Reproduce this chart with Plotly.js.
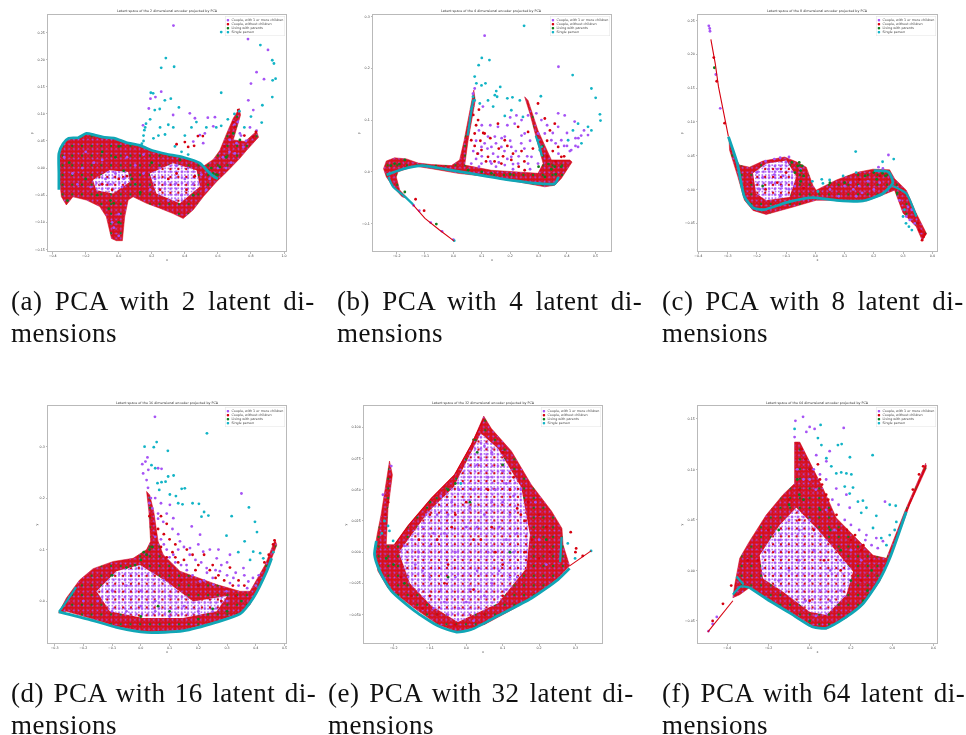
<!DOCTYPE html>
<html><head><meta charset="utf-8">
<script src="https://cdn.plot.ly/plotly-3.0.1.min.js"></script>
<style>html,body{margin:0;padding:0;background:#fff;overflow:hidden}#g{width:966px;height:735px}.cartesianlayer{filter:blur(.45px)}</style>
</head><body><div id="g"></div>
<script>
const SERIES_NAMES = ['Couple, with 1 or more children','Couple, without children','Living with parents','Single person'];
const SERIES_COLORS = ['#a653f5','#d6000f','#0f7d1e','#12b4c6'];

// ---------- Panel a ----------
const A_MASS = [[-.362,.027],[-.337,.045],[-.303,.055],[-.246,.056],[-.196,.064],[-.145,.061],[-.095,.057],[-.024,.055],[.046,.047],[.127,.042],[.208,.032],[.289,.026],[.39,.02],[.491,.009],[.515,.004],[.572,.016],[.612,.033],[.653,.064],[.693,.092],[.729,.11],[.737,.098],[.693,.052],[.764,.049],[.834,.068],[.846,.057],[.774,.033],[.733,.018],[.653,-.007],[.592,-.025],[.511,-.053],[.451,-.077],[.39,-.093],[.329,-.084],[.248,-.074],[.168,-.065],[.087,-.053],[.057,-.059],[.036,-.09],[.022,-.134],[-.014,-.134],[-.044,-.13],[-.075,-.09],[-.115,-.071],[-.196,-.059],[-.277,-.053],[-.317,-.068],[-.347,-.053],[-.362,-.01],[-.362,.027]];
const A_HOLES = [[[-.156,-.022],[-.055,-.004],[.057,-.007],[.067,-.025],[-.034,-.047],[-.135,-.041],[-.156,-.022]],[[.188,-.01],[.329,.009],[.471,-.004],[.491,-.034],[.37,-.065],[.228,-.047],[.188,-.01]]];
const A_BANDS = [[[-.362,-.04],[-.362,-.01],[-.362,.027],[-.337,.045],[-.303,.055],[-.246,.056],[-.196,.064],[-.145,.061],[-.095,.057],[-.024,.055],[.046,.047],[.127,.042],[.208,.032],[.289,.026],[.39,.02],[.491,.009],[.515,.002],[.56,-.012],[.60,-.02]]];
const A_TAILS = [];
const A_PURPLE = [[.331,.263],[.782,.238],[.903,.218],[.834,.177],[.879,.164],[.8,.156],[.257,.141],[.192,.128],[.222,.131],[.182,.11],[.147,.079],[.539,.093],[.582,.094],[.814,.107],[.491,.061],[.329,.098],[.43,.101],[.461,.092],[.572,.077],[.521,.064],[.451,.049],[.511,.046],[.784,.125],[.834,.069],[.794,.075],[.733,.064],[.713,.046],[.703,.027],[.754,.039],[.673,.052],[-.05,-.03],[-.02,-.01],[.03,-.02],[-.08,-.02],[-.11,-.03],[.02,-.035],[-.03,-.11],[0,-.125],[-.04,-.1],[.22,-.02],[.28,-.03],[.34,-.03],[.4,-.02],[.45,-.03],[.38,-.05],[.3,-.06],[.25,0],[.35,.005],[.42,0],[.1,.005],[.05,.02],[-.2,.03],[-.28,-.01],[-.33,.02],[-.25,-.03],[.15,.025],[.55,-.02],[.6,0],[.65,0],[.68,.01],[0,-.085],[-.15,.01],[-.1,.015],[-.22,0],[-.17,-.035],[.1,-.03],[.15,-.01],[.19,-.04],[.5,-.012],[.53,-.04],[.74,.06],[.72,.085],[.7,.08],[.77,.05],[.67,.03],[.63,.02]];
const A_RED = [[.479,.059],[.509,.059],[.4,.048],[.42,.039],[.456,.041],[.35,.044],[.723,.107],[.693,.085],[.83,.067],[.814,.058],[.703,.076],[.673,.058],[.64,.04],[.76,.06],[-.1,-.03],[0,-.02],[.25,-.04],[.35,-.01],[.3,-.02],[.41,-.04],[.46,-.015],[-.04,-.04],[.05,-.015]];
const A_GREEN = [[.693,.064],[.733,.052],[.612,.002],[.572,-.01],[.37,.015],[.1,-.03],[-.2,-.02],[-.05,-.06],[0,-.1],[-.3,.01],[.2,.01],[.45,-.05],[-.1,.03],[0,.04],[.65,.02],[-.06,-.075],[-.03,-.065],[-.13,-.05],[-.31,-.06],[.56,0],[.03,-.005],[-.02,.02],[.54,-.005],[.59,-.012],[.08,-.02],[.13,-.045]];
const A_TEAL = [[.62,.251],[.857,.227],[.285,.203],[.257,.185],[.335,.187],[.929,.199],[.939,.193],[.931,.162],[.949,.165],[.62,.139],[.929,.131],[.869,.116],[.865,.084],[.194,.139],[.208,.138],[.279,.125],[.315,.128],[.364,.112],[.248,.109],[.218,.107],[.165,.082],[.16,.075],[.15,.06],[.19,.09],[.25,.075],[.28,.062],[.3,.08],[.33,.075],[.4,.06],[.44,.075],[.47,.085],[.53,.075],[.59,.075],[.62,.078],[.66,.09],[.7,.1],[.73,.105],[.76,.075],[.8,.095],[.21,.055],[.24,.06],[.34,.04],[.38,.03],[.42,.025],[.15,.05],[.14,.045],[.155,.07]];

// ---------- Panel b ----------
const B_MASS = [[-.246,.006],[-.236,.021],[-.207,.027],[-.165,.025],[-.124,.017],[-.077,.014],[-.007,.012],[.022,.023],[.038,.061],[.054,.106],[.072,.158],[.077,.138],[.063,.093],[.052,.061],[.04,.013],[.134,.003],[.298,-.003],[.316,.016],[.269,.113],[.251,.145],[.263,.138],[.298,.08],[.345,.023],[.41,.023],[.418,.019],[.38,-.013],[.357,-.026],[.322,-.029],[.134,-.01],[.016,-.003],[-.077,.006],[-.136,.011],[-.195,0],[-.201,-.01],[-.189,-.035],[-.16,-.052],[-.181,-.048],[-.212,-.029],[-.236,-.01],[-.246,.006]];
const B_HOLES = [];
const B_BANDS = [[[-.235,-.006],[-.18,.005],[-.11,.012],[-.05,.007],[.06,-.003],[.2,-.016],[.31,-.023],[.357,-.023],[.37,-.01]],[[-.229,-.01],[-.212,-.029],[-.171,-.048],[-.142,-.063]],[[.29,.07],[.305,.045],[.312,.03]],[[.06,.105],[.05,.07],[.07,.14]]];
const B_TAILS = [[[-.148,-.06],[-.1,-.09],[-.05,-.112],[-.02,-.124],[.003,-.134]]];
const B_PURPLE = [[.11,.263],[.37,.203],[.075,.161],[.069,.151],[.104,.126],[.222,.109],[.263,.109],[.292,.113],[.369,.113],[.392,.109],[.427,.097],[.369,.087],[.474,.071],[.439,.048],[.415,.042],[.38,.061],[.345,.061],[.322,.074],[.298,.074],[.181,.068],[.146,.068],[.099,.048],[.134,.048],[.169,.048],[.204,.048],[.239,.055],[.063,.016],[.099,.016],[.134,.016],[.181,.013],[.228,.016],[.263,.016],[.275,.029],[.298,.016],[.204,.029],[.157,.029],[.087,.035],[.122,.068],[.251,.074],[.216,.093],[.157,.087],[-.14,-.065],[-.12,-.075],[-.08,-.098],[-.04,-.115],[0,-.131],[.4,.05],[.43,.065],[.45,.07],[.46,.08],[.07,.04],[.08,.06],[.09,.08],[.1,.03],[.11,.055],[.12,.045],[.13,.02],[.14,.035],[.15,.055],[.16,.018],[.17,.065],[.18,.04],[.19,.025],[.2,.06],[.21,.015],[.22,.04],[.23,.03],[.24,.07],[.25,.045],[.26,.03],[.27,.06],[.1,.09],[.13,.09],[.19,.09],[.24,.1],[.2,.105],[.31,.1],[.33,.09],[.35,.075],[.36,.055],[.37,.035],[.39,.05],[.41,.04],[.4,.075],[.43,.05],[.44,.065],[.08,.025],[.09,.01],[.15,.01],[.21,.005],[.27,.005]];
const B_RED = [[.157,.093],[.087,.1],[.11,.074],[.075,.074],[.063,.061],[.122,.029],[.169,.016],[.228,.087],[.263,.077],[.322,.103],[.298,.132],[.357,.093],[.38,.029],[.369,.048],[-.133,-.053],[-.103,-.075],[.099,.042],[.204,.023],[.251,.003],[.181,.061],[.075,.05],[.08,.09],[.085,.035],[.095,.06],[.105,.075],[.115,.02],[.13,.065],[.145,.02],[.16,.045],[.175,.03],[.19,.05],[.21,.035],[.23,.01],[.24,.04],[.25,.02],[.28,.045],[.33,.06],[.35,.04],[.33,.03],[.36,.02],[.39,.03],[.34,.08],[.07,.11],[.09,.12]];
const B_GREEN = [[-.06,-.101],[-.171,-.039],[.134,-.003],[.357,.01],[.322,-.01],[.052,.003],[-.207,.016],[-.171,.023],[.3,.01],[.38,.01],[.2,-.005],[.345,.005],[.335,.015],[.36,-.005],[.1,0],[-.22,.012],[-.19,.015]];
const B_TEAL = [[.249,.282],[.1,.22],[.127,.216],[.089,.206],[.075,.184],[.42,.187],[.486,.161],[.501,.143],[.516,.111],[.518,.099],[.308,.146],[.165,.164],[.151,.156],[.146,.148],[.113,.171],[.099,.167],[.081,.171],[.154,.145],[.208,.144],[.234,.138],[.19,.142],[.122,.138],[.093,.132],[.14,.126],[.204,.119],[.245,.106],[.181,.108],[.439,.093],[.421,.08],[.451,.055],[.404,.061],[.474,.087],[.486,.08],[.298,.061],[.31,.048],[.304,.042],[.063,.122],[.069,.145],[.075,.138],[.003,-.133]];

// ---------- Panel c ----------
const C_MASS = [[-.295,.075],[-.282,.053],[-.259,.036],[-.225,.033],[-.179,.042],[-.105,.048],[-.065,.041],[-.031,.033],[-.008,.006],[.003,-.001],[.072,.014],[.14,.025],[.197,.03],[.254,.029],[.271,.016],[.311,-.001],[.345,-.035],[.38,-.065],[.366,-.076],[.345,-.055],[.3,-.035],[.271,-.001],[.231,-.008],[.174,-.017],[.106,-.016],[.003,-.016],[-.076,-.026],[-.168,-.037],[-.213,-.031],[-.242,-.016],[-.265,.019],[-.293,.058],[-.295,.075]];
const C_HOLES = [[[-.213,.024],[-.168,.038],[-.099,.043],[-.065,.019],[-.088,-.011],[-.168,-.016],[-.202,-.006],[-.213,.024]]];
const C_BANDS = [[[-.297,.078],[-.267,.039],[-.242,-.011],[-.213,-.027],[-.179,-.03],[-.088,-.018],[-.008,-.012],[.072,-.016],[.163,-.017],[.231,-.006],[.265,.01],[.25,.026],[.2,.028]],[[.265,.005],[.311,-.006],[.345,-.04]]];
const C_TAILS = [[[-.357,.222],[-.35,.206],[-.342,.186],[-.331,.152],[-.322,.132],[-.314,.11],[-.304,.088],[-.297,.078]]];
const C_PURPLE = [[-.364,.242],[-.361,.238],[-.36,.234],[.25,.051],[.216,.033],[.231,.031],[.311,-.04],[.323,-.045],[.317,-.026],[.288,-.016],[-.16,.03],[-.13,.03],[-.1,.04],[-.11,.02],[-.15,.01],[-.19,0],[-.09,0],[-.12,-.01],[-.2,.025],[.13,0],[.16,-.005],[.14,-.01],[.1,.005],[.2,0],[.22,.01],[.05,0],[.08,-.01],[-.05,.03],[-.07,.005],[-.34,.17],[-.325,.12],[-.12,.047],[-.17,.042],[-.14,.022],[-.115,.005],[-.18,.018],[.34,-.05],[.33,-.03],[.12,.01],[.15,.005],[.18,.012],[-.14,.045],[-.09,.048]];
const C_RED = [[.37,-.07],[.365,-.075],[.375,-.066],[.36,-.062],[.35,-.05],[-.347,.195],[-.337,.16],[-.31,.098],[.355,-.06],[.1,.01],[.15,.015],[.22,.02],[-.22,.01],[-.04,.002],[-.13,.01],[-.17,0],[-.1,.025]];
const C_GREEN = [[-.06,.035],[-.05,.028],[-.07,.025],[-.04,.02],[.1,.01],[.17,.02],[.24,.02],[.21,.015],[-.18,.005],[.28,-.005],[.05,.01],[-.055,.04],[-.345,.18],[-.08,.04],[-.05,.012],[-.045,.035],[.2,.025],[.23,.024]];
const C_TEAL = [[.138,.056],[.268,.045],[.23,.041],[.022,.015],[.026,.009],[.049,.014],[.095,.02],[.14,.025],[.009,-.003],[.3,-.04],[.31,-.05],[.32,-.055],[.33,-.06],[.305,-.03],[-.01,.012]];

// ---------- Panel d ----------
const D_MASS = [[-.286,-.023],[-.259,.006],[-.213,.041],[-.166,.063],[-.096,.077],[-.027,.083],[.02,.1],[.034,.116],[.028,.174],[.02,.213],[.031,.206],[.045,.174],[.06,.116],[.078,.09],[.136,.058],[.264,.032],[.345,.019],[.38,.019],[.432,.07],[.467,.119],[.473,.109],[.438,.058],[.38,-.007],[.345,-.023],[.264,-.039],[.147,-.056],[.02,-.06],[-.085,-.049],[-.178,-.033],[-.259,-.02],[-.286,-.023]];
const D_HOLES = [[[-.154,.019],[-.085,.058],[-.003,.07],[.089,.038],[.182,-.001],[.3,.01],[.264,-.02],[.147,-.033],[.008,-.033],[-.108,-.02],[-.154,.019]]];
const D_BANDS = [[[-.285,-.021],[-.178,-.036],[-.085,-.051],[.02,-.061],[.147,-.058],[.264,-.041],[.345,-.025],[.391,.006],[.438,.058],[.455,.083]],[[-.285,-.021],[-.259,-.001],[-.225,.027]]];
const D_TAILS = [];
const D_PURPLE = [[.049,.358],[.35,.209],[.023,.279],[.016,.271],[.005,.266],[.026,.255],[.008,.248],[.06,.258],[.072,.257],[.101,.187],[.078,.154],[.113,.161],[.177,.145],[.206,.129],[.136,.116],[.217,.096],[.171,.103],[.264,.083],[.31,.09],[.357,.064],[.322,.045],[.275,.058],[.229,.064],[.159,.07],[.113,.09],[.374,.038],[.252,.032],[.298,.019],[.206,.038],[.025,.22],[.02,.235],[.03,.19],[.035,.2],[-.1,.02],[-.05,.03],[0,.02],[.05,0],[.1,.01],[.15,-.01],[.2,-.02],[-.15,0],[-.2,0],[-.05,-.02],[.05,-.02],[.1,-.03],[.25,-.02],[.3,0],[-.1,-.02],[0,-.01],[.08,.04],[.07,.12],[.09,.1],[.1,.085],[.13,.1],[.15,.105],[.17,.09],[.19,.08],[.21,.075],[.23,.055],[.25,.045],[.28,.07],[.3,.05],[.31,.035],[.33,.055],[.34,.03],[.36,.05],[.37,.025],[.39,.045],[.4,.03],[.41,.05],[.11,.14],[.13,.13],[.09,.17],[.06,.16],[.07,.19],[.16,.06],[.18,.05],[.22,.04],[.26,.06],[.12,.075],[.14,.07],[.08,.11],[.05,.125],[.06,.17],[.05,.2],[.04,.18],[.2,.11],[.24,.1],[.27,.1],[.3,.075]];
const D_RED = [[.04,.15],[.03,.165],[.05,.13],[.06,.14],[.08,.13],[.1,.12],[.12,.11],[.15,.08],[.18,.09],[.2,.07],[.25,.07],[.27,.05],[.32,.03],[.33,.01],[.1,.06],[.14,.04],[.2,.03],[.28,0],[.43,.075],[.445,.09],[.46,.11],[.465,.118],[.07,.105],[.09,.085],[.11,.095],[.13,.075],[.16,.1],[.19,.06],[.22,.09],[.24,.06],[.26,.045],[.29,.04],[.31,.065],[.34,.04],[.36,.03],[.07,.165],[.09,.15],[.12,.085]];
const D_GREEN = [[.02,.09],[0,.08],[-.02,.07],[.03,.1],[-.05,.065],[.06,-.01],[.1,-.02],[0,-.03],[.2,-.035],[.25,-.015],[-.1,.05],[.3,-.02],[.35,0],[.04,.105],[.01,.095]];
const D_TEAL = [[.23,.326],[.055,.309],[.013,.3],[.045,.299],[.094,.292],[.037,.264],[.05,.258],[.095,.242],[.114,.244],[.058,.229],[.086,.232],[.072,.231],[.153,.219],[.142,.218],[.064,.216],[.101,.207],[.122,.204],[.18,.19],[.202,.189],[.13,.19],[.145,.188],[.316,.165],[.376,.182],[.397,.154],[.404,.134],[.22,.173],[.235,.166],[.211,.164],[.298,.127],[.361,.116],[.339,.095],[.391,.096],[.415,.093],[.426,.083],[.38,.08],[.461,.095]];

// ---------- Panel e ----------
const E_MASS = [[-.252,.001],[-.245,.014],[-.234,.03],[-.224,.049],[-.211,.073],[-.203,.062],[-.215,.035],[-.22,.006],[-.197,.006],[-.16,.021],[-.096,.043],[-.032,.062],[.014,.086],[.048,.109],[.069,.099],[.124,.081],[.179,.054],[.234,.033],[.263,.019],[.266,.006],[.284,-.011],[.252,-.021],[.206,-.031],[.133,-.045],[.05,-.058],[-.023,-.064],[-.078,-.058],[-.142,-.045],[-.215,-.029],[-.243,-.015],[-.252,.001]];
const E_HOLES = [[[-.185,0],[-.105,.032],[-.035,.052],[.04,.095],[.087,.083],[.151,.052],[.175,.014],[.165,-.013],[.087,-.041],[-.023,-.056],[-.096,-.043],[-.155,-.025],[-.185,0]]];
const E_BANDS = [[[-.247,.009],[-.252,-.002],[-.238,-.015],[-.206,-.031],[-.142,-.047],[-.078,-.059],[-.027,-.064],[.014,-.062],[.087,-.051],[.179,-.037],[.252,-.022],[.284,-.013]],[[.262,.012],[.258,-.008]]];
const E_TAILS = [[[.284,-.011],[.343,.001]],[[-.197,.006],[-.16,.021],[-.096,.043],[-.032,.062],[.014,.086],[.048,.107]]];
const E_PURPLE = [[-.206,.069],[-.229,.046],[-.17,.005],[-.14,-.01],[-.12,.02],[-.1,.005],[-.08,.03],[-.06,.015],[-.04,.04],[-.03,0],[0,.02],[.02,.05],[.03,.07],[.05,.03],[.06,0],[.08,.05],[.09,.02],[.1,.065],[.12,.03],[.13,0],[.14,-.02],[.11,-.03],[.07,-.025],[.03,-.015],[0,-.04],[-.03,-.02],[-.07,-.03],[-.1,-.02],[-.13,-.03],[-.05,-.05],[.02,-.055],[.05,.085],[.09,.085],[.15,.05],[.2,.01],[.19,.04],[.22,-.01],[-.15,.01],[-.13,0],[-.11,.03],[-.09,.015],[-.07,.045],[-.05,.03],[-.02,.05],[.01,.035],[.03,.02],[.04,.05],[.06,.06],[.07,.04],[.1,.04],[.11,.01],[.13,.045],[.14,.015],[.12,-.02],[.09,-.015],[.05,-.035],[.01,-.03],[-.02,-.045],[-.06,-.04],[-.09,-.045],[-.12,-.015],[-.16,-.02],[.04,.075],[.07,.08],[.11,.055]];
const E_RED = [[.287,.016],[.302,.003],[.2,.03],[.22,.02],[.18,.01],[.2,-.005],[.23,0],[.17,.04],[.15,.03],[.13,.06],[.1,.08],[-.18,-.02],[-.15,-.035],[-.12,-.045],[-.08,-.05],[-.03,-.058],[.05,-.05],[.1,-.035],[-.03,.03],[.02,.01],[-.1,.03],[-.05,-.01],[.07,.02],[-.215,.04],[-.21,.06],[-.222,.03],[.3,0],[.32,-.003],[-.13,.01],[-.08,.01],[-.04,.02],[0,.04],[.04,.01],[.08,0],[.1,-.01],[.02,-.03],[-.06,-.025],[-.1,-.035],[.06,.05],[.12,.05],[.14,.035],[.16,0],[.16,.025]];
const E_GREEN = [[-.05,.05],[.03,.08],[.02,.09],[-.2,-.01],[-.22,-.005],[-.17,-.025],[.22,.01],[.01,.04],[-.05,-.02],[.1,.07],[-.1,.04],[.12,0],[-.03,.055]];
const E_TEAL = [[-.211,.017],[-.201,.009],[-.215,.021],[.279,.007],[.299,-.005],[-.225,.025],[-.232,.015],[-.015,.055],[.343,.001]];

// ---------- Panel f ----------
const F_MASS = [[-.372,-.027],[-.363,-.014],[-.339,.012],[-.291,.029],[-.21,.055],[-.129,.075],[-.073,.086],[-.073,.127],[-.048,.127],[0,.108],[.065,.081],[.129,.052],[.226,.032],[.307,.015],[.372,.012],[.46,.058],[.562,.106],[.565,.101],[.485,.065],[.388,.012],[.339,-.011],[.258,-.034],[.178,-.047],[.081,-.058],[.016,-.055],[-.097,-.041],[-.21,-.027],[-.291,-.017],[-.339,-.024],[-.372,-.027]];
const F_HOLES = [[[-.242,.015],[-.145,.045],[-.065,.062],[.032,.042],[.129,.019],[.21,-.001],[.178,-.024],[.081,-.044],[0,-.041],[-.129,-.021],[-.226,-.008],[-.242,.015]]];
const F_BANDS = [[[-.291,-.017],[-.21,-.028],[-.097,-.042],[.016,-.056],[.081,-.057],[.178,-.046],[.258,-.033],[.339,-.009],[.388,.012],[.468,.058]],[[-.372,-.024],[-.335,-.016],[-.291,-.017]],[[-.355,-.006],[-.32,-.014]]];
const F_TAILS = [[[-.494,-.061],[-.372,-.03]],[[.468,.058],[.565,.104]]];
const F_PURPLE = [[-.032,.152],[-.069,.148],[0,.142],[.024,.14],[-.016,.137],[.165,.141],[.365,.068],[-.073,.132],[.097,.118],[.081,.108],[.178,.075],[.194,.062],[.275,.035],[.323,.032],[.355,.029],[.129,.081],[.032,.114],[-.2,.02],[-.15,.03],[-.1,.05],[-.05,.04],[0,.05],[.05,.03],[.02,.02],[-.05,.01],[-.1,0],[-.15,-.01],[0,-.01],[.05,-.02],[.1,0],[.1,-.03],[.15,-.02],[-.02,-.03],[.03,-.045],[.15,.01],[.2,-.01],[.12,.04],[.08,.06],[.03,.08],[-.03,.09],[-.06,.1],[0,.09],[.25,.01],[.2,.02],[-.49,-.06],[-.47,-.053],[-.45,-.046],[.02,.1],[.05,.095],[.08,.09],[.11,.07],[.14,.065],[.17,.05],[.2,.045],[.24,.04],[.27,.03],[.3,.025],[.33,.022]];
const F_RED = [[-.1,.07],[-.05,.08],[-.02,.11],[-.04,.12],[0,.1],[.05,.09],[.08,.075],[.1,.06],[.14,.04],[.2,.03],[.25,.02],[.3,.01],[.15,0],[.25,-.01],[-.05,.05],[.02,.04],[.07,.01],[0,-.03],[-.25,.01],[-.2,.04],[.5,.08],[.53,.095],[.55,.103],[-.38,-.015],[-.42,-.033],[-.47,-.05],[-.3,.01],[.04,.105],[.06,.085],[.09,.07],[.13,.055],[.18,.04],[.22,.035],[.26,.025]];
const F_GREEN = [[-.05,.075],[-.03,.07],[-.06,.09],[-.1,.065],[.15,.02],[.2,-.01],[.28,-.02],[.26,-.03],[.1,.04],[.05,.06],[-.15,.04],[0,-.05],[.3,0]];
const F_TEAL = [[.053,.144],[-.073,.14],[.04,.131],[.057,.124],[.137,.124],[.155,.125],[.195,.112],[.305,.114],[.081,.111],[.105,.103],[.129,.096],[.153,.097],[.178,.096],[.202,.095],[.17,.083],[.21,.082],[.194,.076],[.234,.068],[.258,.069],[.275,.062],[.25,.057],[.323,.054],[.388,.065],[.417,.064],[.307,.042],[.347,.032],[.388,.035],[.42,.048],[.412,.04],[.372,.025]];

// ---------- Panel settings ----------
const PANELS = [
 {dim:2, box:[48,286,15,251], xr:[-.428,1.012], yr:[-.153,.2825], dx:.2, dy:.05, fy:'.2f', fx:'.1f', mass:A_MASS, holes:A_HOLES, bands:A_BANDS, tails:A_TAILS, s:[A_PURPLE,A_RED,A_GREEN,A_TEAL], cap:'(a) PCA with 2 latent di-', capx:10, capy:[301,333], ws:5},
 {dim:4, box:[373,611,15,251], xr:[-.283,.555], yr:[-.153,.303], dx:.1, dy:.1, fy:'.1f', fx:'.1f', mass:B_MASS, holes:B_HOLES, bands:B_BANDS, tails:B_TAILS, s:[B_PURPLE,B_RED,B_GREEN,B_TEAL], cap:'(b) PCA with 4 latent di-', capx:336, capy:[301,333], ws:5},
 {dim:8, box:[698,937,15,251], xr:[-.401,.416], yr:[-.091,.258], dx:.1, dy:.05, fy:'.2f', fx:'.1f', mass:C_MASS, holes:C_HOLES, bands:C_BANDS, tails:C_TAILS, s:[C_PURPLE,C_RED,C_GREEN,C_TEAL], cap:'(c) PCA with 8 latent di-', capx:661, capy:[301,333], ws:4.6},
 {dim:16, box:[48,286,406,643], xr:[-.323,.505], yr:[-.0815,.379], dx:.1, dy:.1, fy:'.1f', fx:'.1f', mass:D_MASS, holes:D_HOLES, bands:D_BANDS, tails:D_TAILS, s:[D_PURPLE,D_RED,D_GREEN,D_TEAL], cap:'(d) PCA with 16 latent di-', capx:10, capy:[693,725], ws:2.2},
 {dim:32, box:[364,602,406,643], xr:[-.281,.373], yr:[-.0728,.1171], dx:.1, dy:.025, fy:'.3f', fx:'.1f', mass:E_MASS, holes:E_HOLES, bands:E_BANDS, tails:E_TAILS, s:[E_PURPLE,E_RED,E_GREEN,E_TEAL], cap:'(e) PCA with 32 latent di-', capx:327, capy:[693,725], ws:2.6},
 {dim:64, box:[698,937,406,643], xr:[-.541,.617], yr:[-.0718,.1627], dx:.2, dy:.05, fy:'.2f', fx:'.1f', mass:F_MASS, holes:F_HOLES, bands:F_BANDS, tails:F_TAILS, s:[F_PURPLE,F_RED,F_GREEN,F_TEAL], cap:'(f) PCA with 64 latent di-', capx:661, capy:[693,725], ws:2.7}
];
const W = 966, H = 735, SMALL = 3.3, CAPSIZE = 27;
const FONT = 'DejaVu Sans', CAPFONT = 'Liberation Serif';
const xs = a => a.map(p => p[0]), ys = a => a.map(p => p[1]);
const clear = 'rgba(0,0,0,0)';

const traces = [], layout = {width:W, height:H, margin:{l:0,r:0,t:0,b:0}, paper_bgcolor:'#fff', plot_bgcolor:'#fff', showlegend:false, annotations:[], font:{family:FONT,color:'#444'}};
const legendText = SERIES_NAMES.map((n,i) => `<span style="color:${SERIES_COLORS[i]}">●</span>  ${n}`).join('<br>');
const capText = (t,ws) => `<span style="letter-spacing:.5px;word-spacing:${ws}px">${t}</span>`;

const MASS_LAYERS = [['#a653f5',4.7,.12],['#a653f5',3.1,.05],['#0f7d1e',9.7,.04]];
const HOLE_LAYERS = [['#a653f5',3.3,.22],['#a653f5',5.7,.18],['#d6000f',7.9,.07]];

PANELS.forEach((p,i) => {
  const id = i ? String(i+1) : '', xa = 'x'+id, ya = 'y'+id;
  const [l,r,t,b] = p.box;
  const axis = {showgrid:false, zeroline:false, showline:true, mirror:true, linecolor:'#b9b9b9', linewidth:1, ticks:'outside', ticklen:1.5, tickwidth:.5, tickcolor:'#777', tickfont:{size:SMALL,color:'#444',family:FONT}};
  layout['xaxis'+id] = {...axis, domain:[l/W,r/W], range:p.xr, dtick:p.dx, tickformat:p.fx, anchor:ya, automargin:false, title:{text:'x',font:{size:SMALL,color:'#444'},standoff:1}};
  layout['yaxis'+id] = {...axis, domain:[1-b/H,1-t/H], range:p.yr, dtick:p.dy, tickformat:p.fy, anchor:xa, automargin:false, title:{text:'y',font:{size:SMALL,color:'#444'},standoff:1}};
  const base = {xaxis:xa, yaxis:ya, hoverinfo:'skip', showlegend:false};
  const layer = (a,nm,c,sz,so) => traces.push({...base, type:'scatter', mode:'lines', name:nm, x:xs(a), y:ys(a), fill:'toself', line:{width:0,color:clear}, fillcolor:clear, fillpattern:{shape:'.',size:sz,solidity:so,fgcolor:c,bgcolor:clear,fillmode:'replace'}});
  traces.push({...base, type:'scatter', mode:'lines', name:'dense region', x:xs(p.mass), y:ys(p.mass), fill:'toself', line:{width:.5,color:SERIES_COLORS[1]}, fillcolor:'#d8101a'});
  MASS_LAYERS.forEach(([c,sz,so]) => layer(p.mass,'dense region',c,sz,so));
  p.holes.forEach(h => {
    traces.push({...base, type:'scatter', mode:'lines', name:'sparse region', x:xs(h), y:ys(h), fill:'toself', line:{width:0,color:clear}, fillcolor:'#ffffff'});
    HOLE_LAYERS.forEach(([c,sz,so]) => layer(h,'sparse region',c,sz,so));
  });
  p.s.forEach((pts,k) => traces.push({...base, type:'scatter', mode:'markers', name:SERIES_NAMES[k], x:xs(pts), y:ys(pts), marker:{size:2.8,color:SERIES_COLORS[k],line:{width:0}}}));
  p.tails.forEach(a => traces.push({...base, type:'scatter', mode:'lines', name:'thin branch', x:xs(a), y:ys(a), line:{width:1.1,color:SERIES_COLORS[1]}}));
  p.bands.forEach((a,n) => traces.push({...base, type:'scatter', mode:'lines', name:SERIES_NAMES[3], x:xs(a), y:ys(a), line:{width:n===0?2.8:2.2,color:'#10a6b6',shape:'spline',smoothing:.6}}));
  layout.annotations.push({xref:'paper',yref:'paper',x:(l+r)/2/W,y:1-(t-.5)/H,xanchor:'center',yanchor:'bottom',showarrow:false,borderpad:0,text:`Latent space of the ${p.dim} dimensional encoder projected by PCA`,font:{size:SMALL,color:'#333',family:FONT}});
  layout.annotations.push({xref:'paper',yref:'paper',x:(r-1)/W,y:1-(t+1)/H,xanchor:'right',yanchor:'top',align:'left',showarrow:false,text:legendText,font:{size:SMALL,color:'#444',family:FONT},bgcolor:'rgba(255,255,255,.85)',bordercolor:'#e2e2e2',borderwidth:.5,borderpad:1});
  layout.annotations.push({xref:'paper',yref:'paper',x:p.capx/W,y:1-p.capy[0]/H,xanchor:'left',yanchor:'middle',showarrow:false,borderpad:0,text:capText(p.cap,p.ws),font:{size:CAPSIZE,color:'#111',family:CAPFONT}});
  layout.annotations.push({xref:'paper',yref:'paper',x:p.capx/W,y:1-p.capy[1]/H,xanchor:'left',yanchor:'middle',showarrow:false,borderpad:0,text:capText('mensions',0),font:{size:CAPSIZE,color:'#111',family:CAPFONT}});
});
Plotly.newPlot('g', traces, layout, {displayModeBar:false, staticPlot:true});
</script></body></html>
